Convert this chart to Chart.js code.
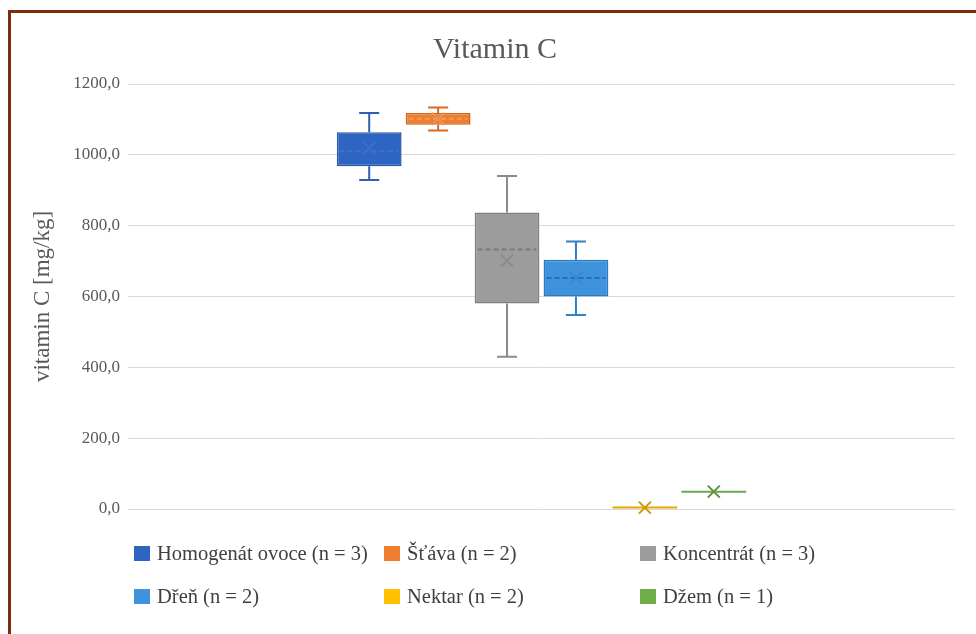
<!DOCTYPE html>
<html>
<head>
<meta charset="utf-8">
<script src="https://cdn.jsdelivr.net/npm/chart.js@4"></script>
<style>
  html, body { margin: 0; padding: 0; background: #ffffff; }
  #wrap { position: relative; width: 976px; height: 634px; overflow: hidden; }
  #frame { position: absolute; left: 8px; top: 10px; right: -10px; bottom: -10px;
           border-left: 3px solid #7b2d0e; border-top: 3px solid #7b2d0e; pointer-events: none; }
  canvas { position: absolute; left: 0; top: 0; }
  .leg { position: absolute; display: flex; align-items: center;
         font-family: "Liberation Serif", serif; font-size: 20.5px; color: #404040; white-space: nowrap; }
  .leg span.sw { display: inline-block; width: 16px; height: 15px; margin-right: 7px; }
</style>
</head>
<body>
<div id="wrap">
  <canvas id="graficaVitC" width="976" height="634"></canvas>
  <div id="frame"></div>
  <div id="legenda"></div>
</div>
<script>
// datos
const categorias = ['Homogenát ovoce (n = 3)', 'Šťáva (n = 2)', 'Koncentrát (n = 3)',
                    'Dřeň (n = 2)', 'Nektar (n = 2)', 'Džem (n = 1)'];
const minimos  = [929, 1069, 430, 548, 4, 49];
const cuartil1 = [968, 1085, 580, 600, 4, 49];
const medianas = [1010, 1102, 733, 652, 4, 49];
const cuartil3 = [1064, 1118, 837, 704, 4, 49];
const maximos  = [1118, 1134, 940, 755, 4, 49];
const medias   = [1019, 1102, 701, 652, 4, 49];
const ticksY   = [0, 200, 400, 600, 800, 1000, 1200];

const colorRelleno = ['#2f65c2', '#ed7d31', '#9c9c9c', '#3f92dc', '#ffc000', '#70ad47'];
const colorBorde   = ['#2857a8', '#d0651d', '#808080', '#2e78bd', '#e3a800', '#5f9a3c'];
const colorBigote  = ['#2f5fb0', '#d86a20', '#8a8a8a', '#2f80c8', '#e8a800', '#6aa84f'];
const colorMediana = ['#3f72c8', '#f39a5a', '#7a7a7a', '#2a6fb0', '#e8a800', '#6aa84f'];
const colorMedia   = ['#3c6fc6', '#f09050', '#8c8c8c', '#3a86cf', '#cf9800', '#5e8f42'];

document.addEventListener('DOMContentLoaded', () => {
    try {
        // bigotes, mediana y media dibujados con las escalas de Chart.js
        const cajasPlugin = {
            id: 'cajas',
            afterDatasetsDraw(chart) {
                const ctx = chart.ctx;
                const y = chart.scales.y;
                chart.data.datasets.forEach((ds, i) => {
                    const bar = chart.getDatasetMeta(i).data[0];
                    if (!bar) return;
                    const x = bar.x, w = bar.width;
                    const yMin = y.getPixelForValue(minimos[i]);
                    const yQ1 = y.getPixelForValue(cuartil1[i]);
                    const yMed = y.getPixelForValue(medianas[i]);
                    const yQ3 = y.getPixelForValue(cuartil3[i]);
                    const yMax = y.getPixelForValue(maximos[i]);
                    const yMean = y.getPixelForValue(medias[i]);
                    ctx.save();
                    ctx.lineWidth = 2;
                    ctx.strokeStyle = colorBigote[i];
                    if (maximos[i] > cuartil3[i]) {
                        ctx.beginPath();
                        ctx.moveTo(x, yQ3); ctx.lineTo(x, yMax);
                        ctx.moveTo(x - 10, yMax); ctx.lineTo(x + 10, yMax);
                        ctx.stroke();
                    }
                    if (minimos[i] < cuartil1[i]) {
                        ctx.beginPath();
                        ctx.moveTo(x, yQ1); ctx.lineTo(x, yMin);
                        ctx.moveTo(x - 10, yMin); ctx.lineTo(x + 10, yMin);
                        ctx.stroke();
                    }
                    // mediana
                    ctx.strokeStyle = colorMediana[i];
                    if (cuartil3[i] > cuartil1[i]) {
                        ctx.setLineDash([5, 3]);
                        ctx.beginPath();
                        ctx.moveTo(x - w / 2 + 3, yMed); ctx.lineTo(x + w / 2 - 3, yMed);
                        ctx.stroke();
                        ctx.setLineDash([]);
                    } else {
                        ctx.beginPath();
                        ctx.moveTo(x - w / 2, yMed); ctx.lineTo(x + w / 2, yMed);
                        ctx.stroke();
                    }
                    // media (x)
                    ctx.strokeStyle = colorMedia[i];
                    ctx.beginPath();
                    ctx.moveTo(x - 6, yMean - 6); ctx.lineTo(x + 6, yMean + 6);
                    ctx.moveTo(x + 6, yMean - 6); ctx.lineTo(x - 6, yMean + 6);
                    ctx.stroke();
                    ctx.restore();
                });
            }
        };

        const ctx = document.getElementById('graficaVitC').getContext('2d');
        const myChart = new Chart(ctx, {
            type: 'bar',
            data: {
                labels: [''],
                datasets: categorias.map((c, i) => ({
                    label: c,
                    data: [[cuartil1[i], cuartil3[i]]],
                    backgroundColor: colorRelleno[i],
                    borderColor: colorBorde[i],
                    borderWidth: cuartil3[i] > cuartil1[i] ? 1.5 : 0,
                    borderSkipped: false,
                    categoryPercentage: 0.5,
                    barPercentage: 0.94
                }))
            },
            options: {
                responsive: false,
                animation: false,
                layout: { padding: { left: 35, right: 21, top: 13, bottom: 125 } },
                scales: {
                    x: {
                        ticks: { display: false },
                        grid: { display: false },
                        border: { display: false },
                        afterFit: (s) => { s.height = 0; }
                    },
                    y: {
                        min: 0, max: 1200,
                        afterBuildTicks: (s) => { s.ticks = ticksY.map(v => ({ value: v })); },
                        ticks: {
                            padding: 8,
                            color: '#595959',
                            font: { family: "'Liberation Serif', serif", size: 17 },
                            callback: (v) => v.toFixed(1).replace('.', ',')
                        },
                        grid: { color: '#d9d9d9', lineWidth: 1, drawTicks: false },
                        border: { display: false },
                        title: {
                            display: true,
                            text: 'vitamin C [mg/kg]',
                            color: '#595959',
                            font: { family: "'Liberation Serif', serif", size: 23 },
                            padding: { top: -6, bottom: 0 }
                        },
                        afterFit: (s) => { s.width = 93; }
                    }
                },
                plugins: {
                    legend: { display: false },
                    tooltip: { enabled: false },
                    title: {
                        display: true,
                        text: 'Vitamin C',
                        color: '#595959',
                        font: { family: "'Liberation Serif', serif", size: 30, weight: 'normal' },
                        padding: { top: 19, bottom: 16 }
                    }
                }
            },
            plugins: [cajasPlugin]
        });

        // leyenda en HTML, 3 columnas x 2 filas
        const colX = [134, 384, 640];
        const filaY = [553, 596];
        const leyenda = document.getElementById('legenda');
        categorias.forEach((c, i) => {
            const d = document.createElement('div');
            d.className = 'leg';
            d.style.left = colX[i % 3] + 'px';
            d.style.top = (filaY[Math.floor(i / 3)] - 12) + 'px';
            d.style.height = '24px';
            d.innerHTML = '<span class="sw" style="background:' + colorRelleno[i] + '"></span>' + c;
            leyenda.appendChild(d);
        });
    } catch (e) {
        console.error("Error al crear la gráfica:", e);
    }
});
</script>
</body>
</html>
